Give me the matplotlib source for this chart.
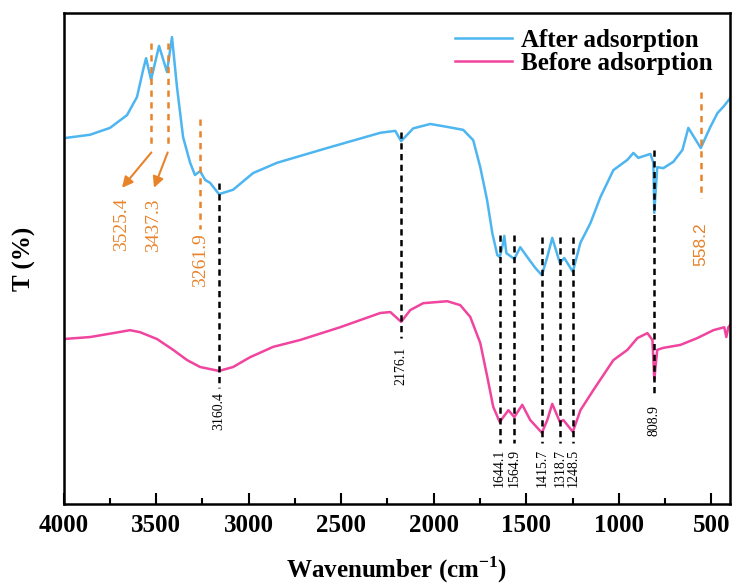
import matplotlib
matplotlib.use("Agg")
import matplotlib.pyplot as plt

plt.rcParams['font.family'] = ['Liberation Serif', 'DejaVu Serif']
plt.rcParams['mathtext.fontset'] = 'custom'
plt.rcParams['mathtext.rm'] = 'Liberation Serif:bold'
plt.rcParams['mathtext.bf'] = 'Liberation Serif:bold'

# FTIR spectra (T in arbitrary units, 0-100)
wn_after = [4000, 3857, 3749, 3657, 3603, 3570, 3554, 3527, 3484, 3441, 3414, 3387,
            3354, 3316, 3290, 3262, 3235, 3208, 3160, 3084, 2976, 2846, 2576, 2289,
            2208, 2176, 2111, 2019, 1927, 1841, 1787, 1749, 1712, 1684, 1657, 1644,
            1630, 1619, 1608, 1565, 1533, 1495, 1452, 1416, 1387, 1360, 1319, 1295,
            1249, 1208, 1154, 1100, 1030, 954, 922, 895, 830, 814, 809, 793, 760, 706,
            657, 625, 558, 506, 468, 436, 398]
t_after = [74.5, 75.2, 76.6, 79.2, 82.9, 88.4, 90.8, 86.4, 93.3, 88.0, 95.1, 84.9,
           74.7, 69.5, 67.0, 67.8, 66.0, 65.4, 63.1, 64.0, 67.4, 69.5, 72.5, 75.6,
           76.0, 73.9, 76.5, 77.4, 76.8, 76.2, 74.1, 68.6, 61.9, 55.2, 50.7, 50.3,
           52.3, 54.6, 51.1, 49.9, 52.3, 50.3, 48.1, 46.6, 50.3, 54.2, 49.1, 50.1,
           47.3, 53.2, 57.2, 62.5, 68.0, 70.1, 71.5, 70.5, 71.3, 69.5, 59.3, 68.6,
           68.4, 69.7, 72.1, 76.6, 72.5, 76.8, 79.6, 80.9, 82.7]

wn_before = [4000, 3857, 3732, 3641, 3587, 3495, 3408, 3332, 3262, 3160, 3084, 2992,
             2868, 2722, 2506, 2289, 2235, 2176, 2127, 2057, 1927, 1857, 1803, 1749,
             1711, 1679, 1644, 1597, 1565, 1522, 1479, 1416, 1387, 1360, 1319, 1300,
             1249, 1208, 1138, 1030, 954, 900, 846, 819, 809, 793, 760, 668, 576, 490,
             431, 420, 409, 398]
t_before = [33.6, 34.0, 34.8, 35.4, 35.0, 33.6, 31.4, 29.3, 27.9, 27.1, 27.9, 29.9,
            32.0, 33.4, 36.0, 38.9, 39.1, 37.1, 39.5, 40.9, 41.3, 40.5, 38.1, 32.8,
            25.9, 19.8, 16.7, 19.1, 17.7, 20.2, 17.1, 14.5, 17.1, 20.4, 16.7, 17.1,
            14.7, 19.1, 23.2, 29.3, 31.4, 33.8, 34.8, 33.4, 25.3, 31.4, 31.8, 32.4,
            33.8, 35.4, 36.0, 34.0, 36.0, 36.5]

# black peak markers: position, line top, line bottom, label top
black_peaks = [3160.4, 2176.1, 1644.1, 1564.9, 1415.7, 1318.7, 1248.5, 808.9]
black_top = [65.4, 75.8, 54.8, 54.8, 54.4, 54.4, 54.4, 72.1]
black_bottom = [23.6, 33.8, 12.4, 12.4, 12.4, 12.4, 12.4, 21.8]
black_label_y = [22.8, 32.0, 11.2, 11.2, 11.2, 11.2, 11.2, 20.2]

# orange peak markers (after adsorption)
orange_peaks = [3525.4, 3437.3, 3261.9, 558.2]
orange_top = [93.9, 93.9, 78.4, 83.9]
orange_bottom = [72.5, 72.5, 56.0, 62.3]
orange_label_x = [3684, 3511, 3262, 558.2]
orange_label_y = [62.3, 62.3, 55.2, 57.4]

blue = '#4db5f0'
pink = '#f0449e'
orange = '#e8832a'

fig = plt.figure(figsize=(7.32, 5.85), dpi=100)
ax = fig.add_axes([63.5 / 732, 1 - 504 / 585, 666.5 / 732, 491 / 585])

ax.plot(wn_after, t_after, color=blue, lw=1.8, label='After adsorption')
ax.plot(wn_before, t_before, color=pink, lw=1.8, label='Before adsorption')

for x, y0, y1, yl in zip(black_peaks, black_top, black_bottom, black_label_y):
    ax.plot([x, x], [y0, y1], color='black', lw=1.8, ls=(0, (2.5, 1.8)))
    ax.text(x, yl, f'{x:.1f}', rotation=90, ha='center', va='top',
            fontsize=10, color='black')

for x, y0, y1, xl, yl in zip(orange_peaks, orange_top, orange_bottom,
                             orange_label_x, orange_label_y):
    ax.plot([x, x], [y0, y1], color=orange, lw=1.8, ls=(0, (2.5, 2.2)))
    fam = ['Liberation Sans'] if x < 1000 else ['Liberation Serif']
    ax.text(xl, yl, f'{x:.1f}', rotation=90, ha='center', va='top',
            fontsize=14 if x > 1000 else 12.5, color=orange, family=fam)

# arrows from the two O-H lines to their labels
for x, xl in zip(orange_peaks[:2], orange_label_x[:2]):
    ax.annotate('', xy=(xl, 64.4), xytext=(x, 71.6),
                arrowprops=dict(arrowstyle='-|>', color=orange, lw=1.5,
                                mutation_scale=16, shrinkA=0, shrinkB=0))

ax.set_xlim(4000, 400)
ax.set_ylim(0, 100)
ax.set_xticks([4000, 3500, 3000, 2500, 2000, 1500, 1000, 500])
ax.set_xticks([3750, 3250, 2750, 2250, 1750, 1250, 750], minor=True)
ax.set_yticks([])
ax.tick_params(axis='x', which='major', direction='in', length=8, width=1.5,
               labelsize=18, pad=7)
ax.tick_params(axis='x', which='minor', direction='in', length=4, width=1.5)
for lab in ax.get_xticklabels():
    lab.set_fontweight('bold')
for s in ax.spines.values():
    s.set_linewidth(1.8)

ax.set_xlabel(r'Wavenumber (cm$^{\mathregular{-1}}$)', fontsize=18,
              fontweight='bold', labelpad=13)
ax.set_ylabel('T (%)', fontsize=18, fontweight='bold', labelpad=20)

ax.legend(loc='upper right', bbox_to_anchor=(1.0, 1.004), frameon=False,
          prop={'weight': 'bold', 'size': 18}, handlelength=2.3,
          handletextpad=0.35, labelspacing=0.0, borderpad=0.2)

fig.savefig('out.png', dpi=100)
